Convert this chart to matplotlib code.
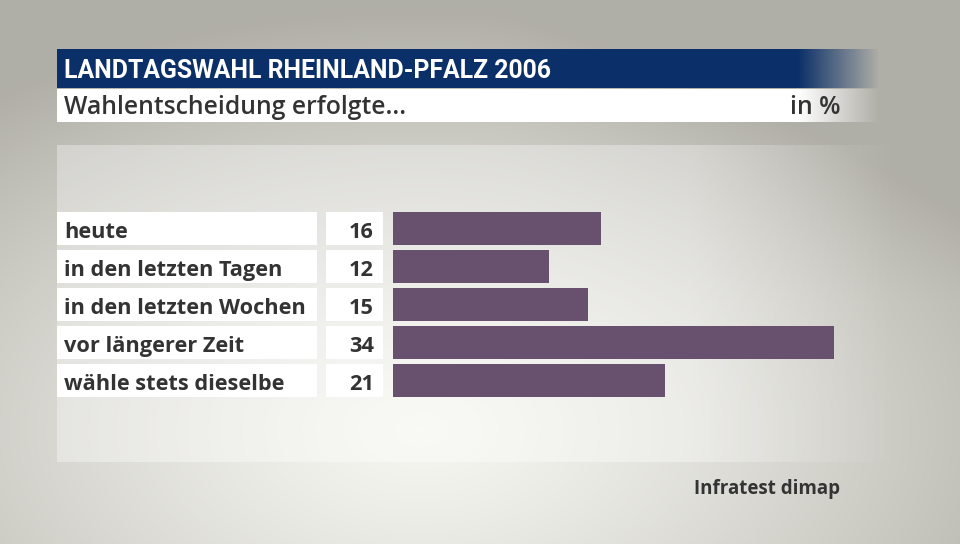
import numpy as np
import matplotlib.pyplot as plt
from matplotlib.patches import Rectangle
import matplotlib.transforms as mtransforms

# data
categories = ["heute", "in den letzten Tagen", "in den letzten Wochen",
              "vor längerer Zeit", "wähle stets dieselbe"]
values = [16, 12, 15, 34, 21]
title = "LANDTAGSWAHL RHEINLAND-PFALZ 2006"
subtitle = "Wahlentscheidung erfolgte..."
unit = "in %"
source = "Infratest dimap"

navy = "#0b3069"
bar_col = "#67516e"
txt = "#333333"
font = "Open Sans"

W, H = 960, 544
fig = plt.figure(figsize=(W / 100, H / 100), dpi=100)

# background in pixel coords
bg = fig.add_axes([0, 0, 1, 1])
bg.axis("off")

yy, xx = np.mgrid[0:H, 0:W]
d = np.sqrt(((xx - 420) / 700.0) ** 2 + ((yy - 430) / 420.0) ** 2)
d = d + 0.25 * np.clip((xx - 500) / 460.0, 0, 1) * np.clip((300 - yy) / 300.0, 0, 1)
t = np.clip(d, 0, 1) ** 1.3
light = np.array([0.965, 0.965, 0.945])
dark = np.array([0.69, 0.685, 0.655])
img = light[None, None, :] * (1 - t[..., None]) + dark[None, None, :] * t[..., None]
bg.imshow(img, extent=(0, W, H, 0), aspect="auto", zorder=0)

# light panel behind the rows
panel = np.zeros((1, 400, 4))
panel[..., :3] = 1.0
panel[0, :, 3] = np.concatenate([np.full(300, 0.35), np.linspace(0.35, 0.0, 100)])
bg.imshow(panel, extent=(57, 900, 462, 145), aspect="auto", zorder=1)

# header bar with fade to the right
hdr = np.zeros((1, 400, 4))
hdr[..., :3] = np.array([11, 48, 105]) / 255.0
hdr[0, :, 3] = np.concatenate([np.ones(360), np.linspace(1, 0, 40)])
bg.imshow(hdr, extent=(57, 880, 88, 49), aspect="auto", zorder=2)
sub = np.ones((1, 400, 4))
sub[0, :, 3] = np.concatenate([np.ones(360), np.linspace(1, 0, 40)])
bg.imshow(sub, extent=(57, 880, 122, 89), aspect="auto", zorder=2)
bg.set_xlim(0, W)
bg.set_ylim(H, 0)

bg.text(64, 78, title, color="white", fontsize=17.8, fontweight="bold",
        family="Roboto", va="baseline", ha="left", zorder=3)
bg.text(64, 114, subtitle, color=txt, fontsize=17.8, fontweight="semibold",
        family=font, va="baseline", ha="left", zorder=3)
bg.text(841, 114, unit, color=txt, fontsize=17.8, fontweight="semibold",
        family=font, va="baseline", ha="right", zorder=3)
bg.text(840, 494, source, color=txt, fontsize=13.5, fontweight="bold",
        family=font, va="baseline", ha="right", zorder=3)

# bar axes: x from 393px, 34 units -> 441px; rows centred 228..380 px
n = len(categories)
row_h = 38
top = 228 - row_h / 2
ax = fig.add_axes([393 / W, 1 - (top + n * row_h) / H, 441 / W, n * row_h / H])
ax.set_xlim(0, 34)
ax.set_ylim(n - 0.5, -0.5)
ax.axis("off")
ypos = np.arange(n)
hb = 33 / row_h
ax.barh(ypos, values, height=hb, color=bar_col, zorder=3)

# figure pixel x, data y
px = mtransforms.blended_transform_factory(
    mtransforms.Affine2D().scale(fig.dpi / 100.0), ax.transData)
base = 10 / row_h
for i, (c, v) in enumerate(zip(categories, values)):
    ax.add_patch(Rectangle((57, i - hb / 2), 260, hb, transform=px,
                           facecolor="white", edgecolor="none", clip_on=False, zorder=2))
    ax.add_patch(Rectangle((326, i - hb / 2), 57, hb, transform=px,
                           facecolor="white", edgecolor="none", clip_on=False, zorder=2))
    ax.text(64, i + base, c, transform=px, color=txt, fontsize=15.7, fontweight="bold",
            family=font, va="baseline", ha="left", clip_on=False, zorder=3)
    ax.text(374, i + base, str(v), transform=px, color=txt, fontsize=15.7, fontweight="bold",
            family=font, va="baseline", ha="right", clip_on=False, zorder=3)

fig.savefig("out.png", dpi=100)
